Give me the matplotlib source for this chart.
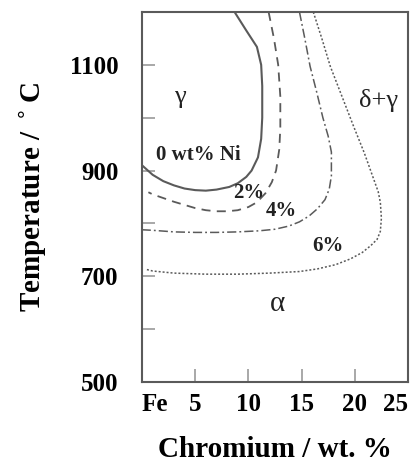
import matplotlib
matplotlib.use('Agg')
from matplotlib import pyplot as plt

# Fe-Cr phase boundaries (gamma loop) for 0, 2, 4, 6 wt% Ni
cr_0 = [8.7, 9.8, 10.8, 11.2, 11.3, 11.3, 11.2, 10.9, 10.3, 9.8, 9.0, 8.2, 7.0, 6.0, 5.0, 4.0, 3.0, 2.0, 1.0, 0.0]
t_0 = [1200, 1165, 1134, 1100, 1060, 1000, 960, 925, 900, 888, 876, 869, 864, 862, 863, 866, 872, 880, 892, 910]

cr_2 = [11.9, 12.4, 12.8, 13.0, 13.0, 12.9, 12.6, 12.2, 11.6, 10.8, 10.0, 9.0, 8.0, 7.0, 6.0, 5.0, 4.0, 3.0, 2.0, 1.0, 0.6]
t_2 = [1200, 1150, 1100, 1040, 980, 940, 900, 878, 857, 840, 831, 825, 823, 823, 825, 829, 835, 841, 848, 855, 859]

cr_4 = [14.8, 15.3, 15.8, 16.4, 17.0, 17.5, 17.8, 17.8, 17.6, 17.2, 16.5, 15.7, 14.8, 13.8, 12.5, 11.0, 9.0, 7.0, 5.0, 3.0, 1.0, 0.0]
t_4 = [1200, 1150, 1097, 1050, 1000, 965, 935, 890, 865, 845, 828, 814, 803, 795, 789, 786, 784, 783, 783, 784, 787, 788]

cr_6 = [16.1, 16.9, 17.7, 18.8, 19.9, 20.9, 21.7, 22.2, 22.4, 22.5, 22.4, 22.1, 21.5, 20.7, 19.6, 18.2, 16.5, 14.8, 12.0, 9.0, 6.0, 3.0, 1.0, 0.4]
t_6 = [1200, 1150, 1097, 1040, 983, 933, 888, 860, 840, 810, 785, 770, 758, 745, 733, 722, 714, 709, 706, 704, 704, 706, 710, 713]

x_ticks = [0, 5, 10, 15, 20, 25]
x_labels = ['Fe', '5', '10', '15', '20', '25']
y_ticks = [500, 600, 700, 800, 900, 1000, 1100]
y_labels = ['500', '', '700', '', '900', '', '1100']

line_col = '#5a5a5a'

fig = plt.figure(figsize=(4.11, 4.65), dpi=100)
ax = fig.add_axes([0.3455, 0.1785, 0.6472, 0.7957])

ax.plot(cr_0, t_0, color=line_col, lw=1.5, ls='-')
ax.plot(cr_2, t_2, color=line_col, lw=1.3, ls=(0, (5, 3.5)))
ax.plot(cr_4, t_4, color=line_col, lw=1.1, ls=(0, (6, 2, 1.2, 2)))
ax.plot(cr_6, t_6, color=line_col, lw=1.1, ls=(0, (1.3, 1.3)))

ax.set_xlim(0, 25)
ax.set_ylim(500, 1200)

for s in ax.spines.values():
    s.set_color(line_col)
    s.set_linewidth(1.5)

ax.set_xticks(x_ticks)
ax.set_xticklabels(x_labels)
ax.set_yticks(y_ticks)
ax.set_yticklabels(y_labels)
ax.tick_params(direction='in', length=9.5, width=1.2, color='#9a9a9a')
ax.tick_params(axis='x', pad=8)
ax.tick_params(axis='y', pad=17)
for lab in ax.get_xticklabels() + ax.get_yticklabels():
    lab.set_fontfamily('Liberation Serif')
    lab.set_fontweight('bold')
    lab.set_fontsize(18)
# end labels sit flush with the axis box, as in the original
ax.get_xticklabels()[0].set_ha('left')
ax.get_xticklabels()[-1].set_ha('right')

ax.set_xlabel('Chromium / wt. %', fontfamily='Liberation Serif', fontweight='bold',
              fontsize=21, labelpad=14)
ax.set_ylabel('Temperature / $^\\circ$C', fontfamily='Liberation Serif', fontweight='bold',
              fontsize=21, labelpad=16)

txt = dict(fontfamily='Liberation Serif', ha='center', va='center', color='#222222')
ax.text(3.6, 1040, 'γ', fontsize=19, **txt)
ax.text(5.3, 930, '0 wt% Ni', fontsize=15, fontweight='bold', **txt)
ax.text(10.0, 858, '2%', fontsize=15, fontweight='bold', **txt)
ax.text(13.1, 824, '4%', fontsize=15, fontweight='bold', **txt)
ax.text(17.5, 757, '6%', fontsize=15, fontweight='bold', **txt)
ax.text(22.2, 1033, 'δ+γ', fontsize=19, **txt)
ax.text(12.7, 648, 'α', fontsize=21, **txt)

plt.savefig('out.png', dpi=100)
